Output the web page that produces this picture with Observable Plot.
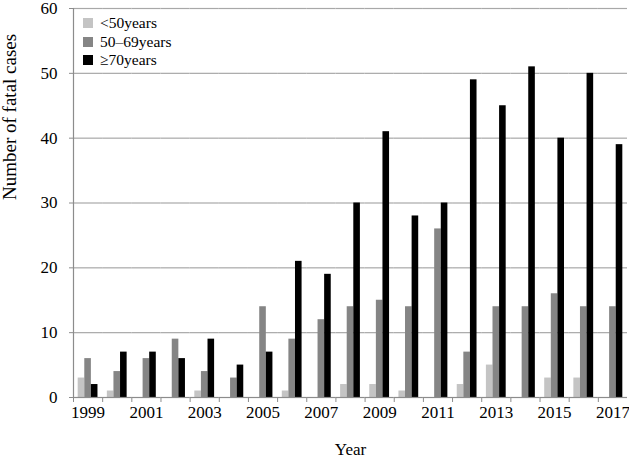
<!DOCTYPE html>
<html><head><meta charset="utf-8">
<script src="https://cdn.jsdelivr.net/npm/d3@7"></script>
<script src="https://cdn.jsdelivr.net/npm/@observablehq/plot@0.6"></script>
<style>
body{margin:0;background:#fff;font-family:"Liberation Serif",serif;}
#wrap{position:relative;width:629px;height:460px;}
#legend{position:absolute;left:83px;top:14px;font-family:"Liberation Serif",serif;font-size:15.5px;line-height:18.5px;color:#000;}
#legend .row{display:flex;align-items:center;height:18.5px;}
#legend .sw{display:inline-block;width:10px;height:10px;margin-right:7px;}
</style></head>
<body><div id="wrap"><div id="legend"></div></div>
<script>
const years = [1999,2000,2001,2002,2003,2004,2005,2006,2007,2008,2009,2010,2011,2012,2013,2014,2015,2016,2017];
const series = ["<50years","50–69years","≥70years"];
const under50 = [3,1,0,0,1,0,0,1,0,2,2,1,0,2,5,0,3,3,0];
const age50to69 = [6,4,6,9,4,3,14,9,12,14,15,14,26,7,14,14,16,14,14];
const over70 = [2,7,7,6,9,5,7,21,19,30,41,28,30,49,45,51,40,50,39];
const colors = ["#c4c4c4","#858585","#000000"];
const yTicks = [0,10,20,30,40,50,60];
const labelYears = years.filter((d,i) => i % 2 === 0);
const yTitle = "Number of fatal cases";
const xTitle = "Year";

const values = [under50, age50to69, over70];
const data = years.flatMap((yr,i) => series.map((s,k) => ({year: yr, group: s, value: values[k][i]})));

const W = 629, H = 460, ML = 73, MR = 2, MT = 8, MB = 63;
const bw = (W - ML - MR) / years.length;

const plot = Plot.plot({
  width: W, height: H, marginLeft: ML, marginRight: MR, marginTop: MT, marginBottom: MB,
  style: {fontFamily: "Liberation Serif", fontSize: "17px", background: "white", color: "black"},
  fx: {domain: years, padding: 0, round: false},
  x: {domain: series, paddingInner: 0, paddingOuter: 0.71, round: false, axis: null},
  y: {domain: [0, 60]},
  color: {domain: series, range: colors},
  marks: [
    Plot.ruleY(yTicks.slice(1), {stroke: "#a8a8a8", strokeWidth: 1.2}),
    Plot.barY(data, {fx: "year", x: "group", y: "value", fill: "group"}),
    Plot.ruleY([0], {stroke: "#8c8c8c", strokeWidth: 1.2}),
    Plot.frame({anchor: "left", facetAnchor: "left", stroke: "#8c8c8c", strokeWidth: 1.2}),
    Plot.axisY({ticks: yTicks, tickSize: 4, tickPadding: 12, stroke: "#8c8c8c", fill: "black", label: null}),
    Plot.text([yTitle], {text: d => d, frameAnchor: "left", facetAnchor: "left", rotate: -90, dx: -64, dy: -3,
      fontSize: 19, fill: "black"}),
    Plot.axisFx({anchor: "bottom", tickSize: 0, tickPadding: 8, tickFormat: d => labelYears.includes(d) ? String(d) : "",
      label: xTitle, labelAnchor: "center", labelOffset: 57, labelArrow: "none"}),
    Plot.axisFx({anchor: "bottom", tickSize: 5, tickFormat: () => "", dx: -bw / 2, stroke: "#8c8c8c", label: null})
  ]
});
document.getElementById("wrap").prepend(plot);

const legend = document.getElementById("legend");
series.forEach((s, k) => {
  const row = document.createElement("div");
  row.className = "row";
  const sw = document.createElement("span");
  sw.className = "sw";
  sw.style.background = colors[k];
  row.appendChild(sw);
  row.appendChild(document.createTextNode(s));
  legend.appendChild(row);
});
</script>
</body></html>
